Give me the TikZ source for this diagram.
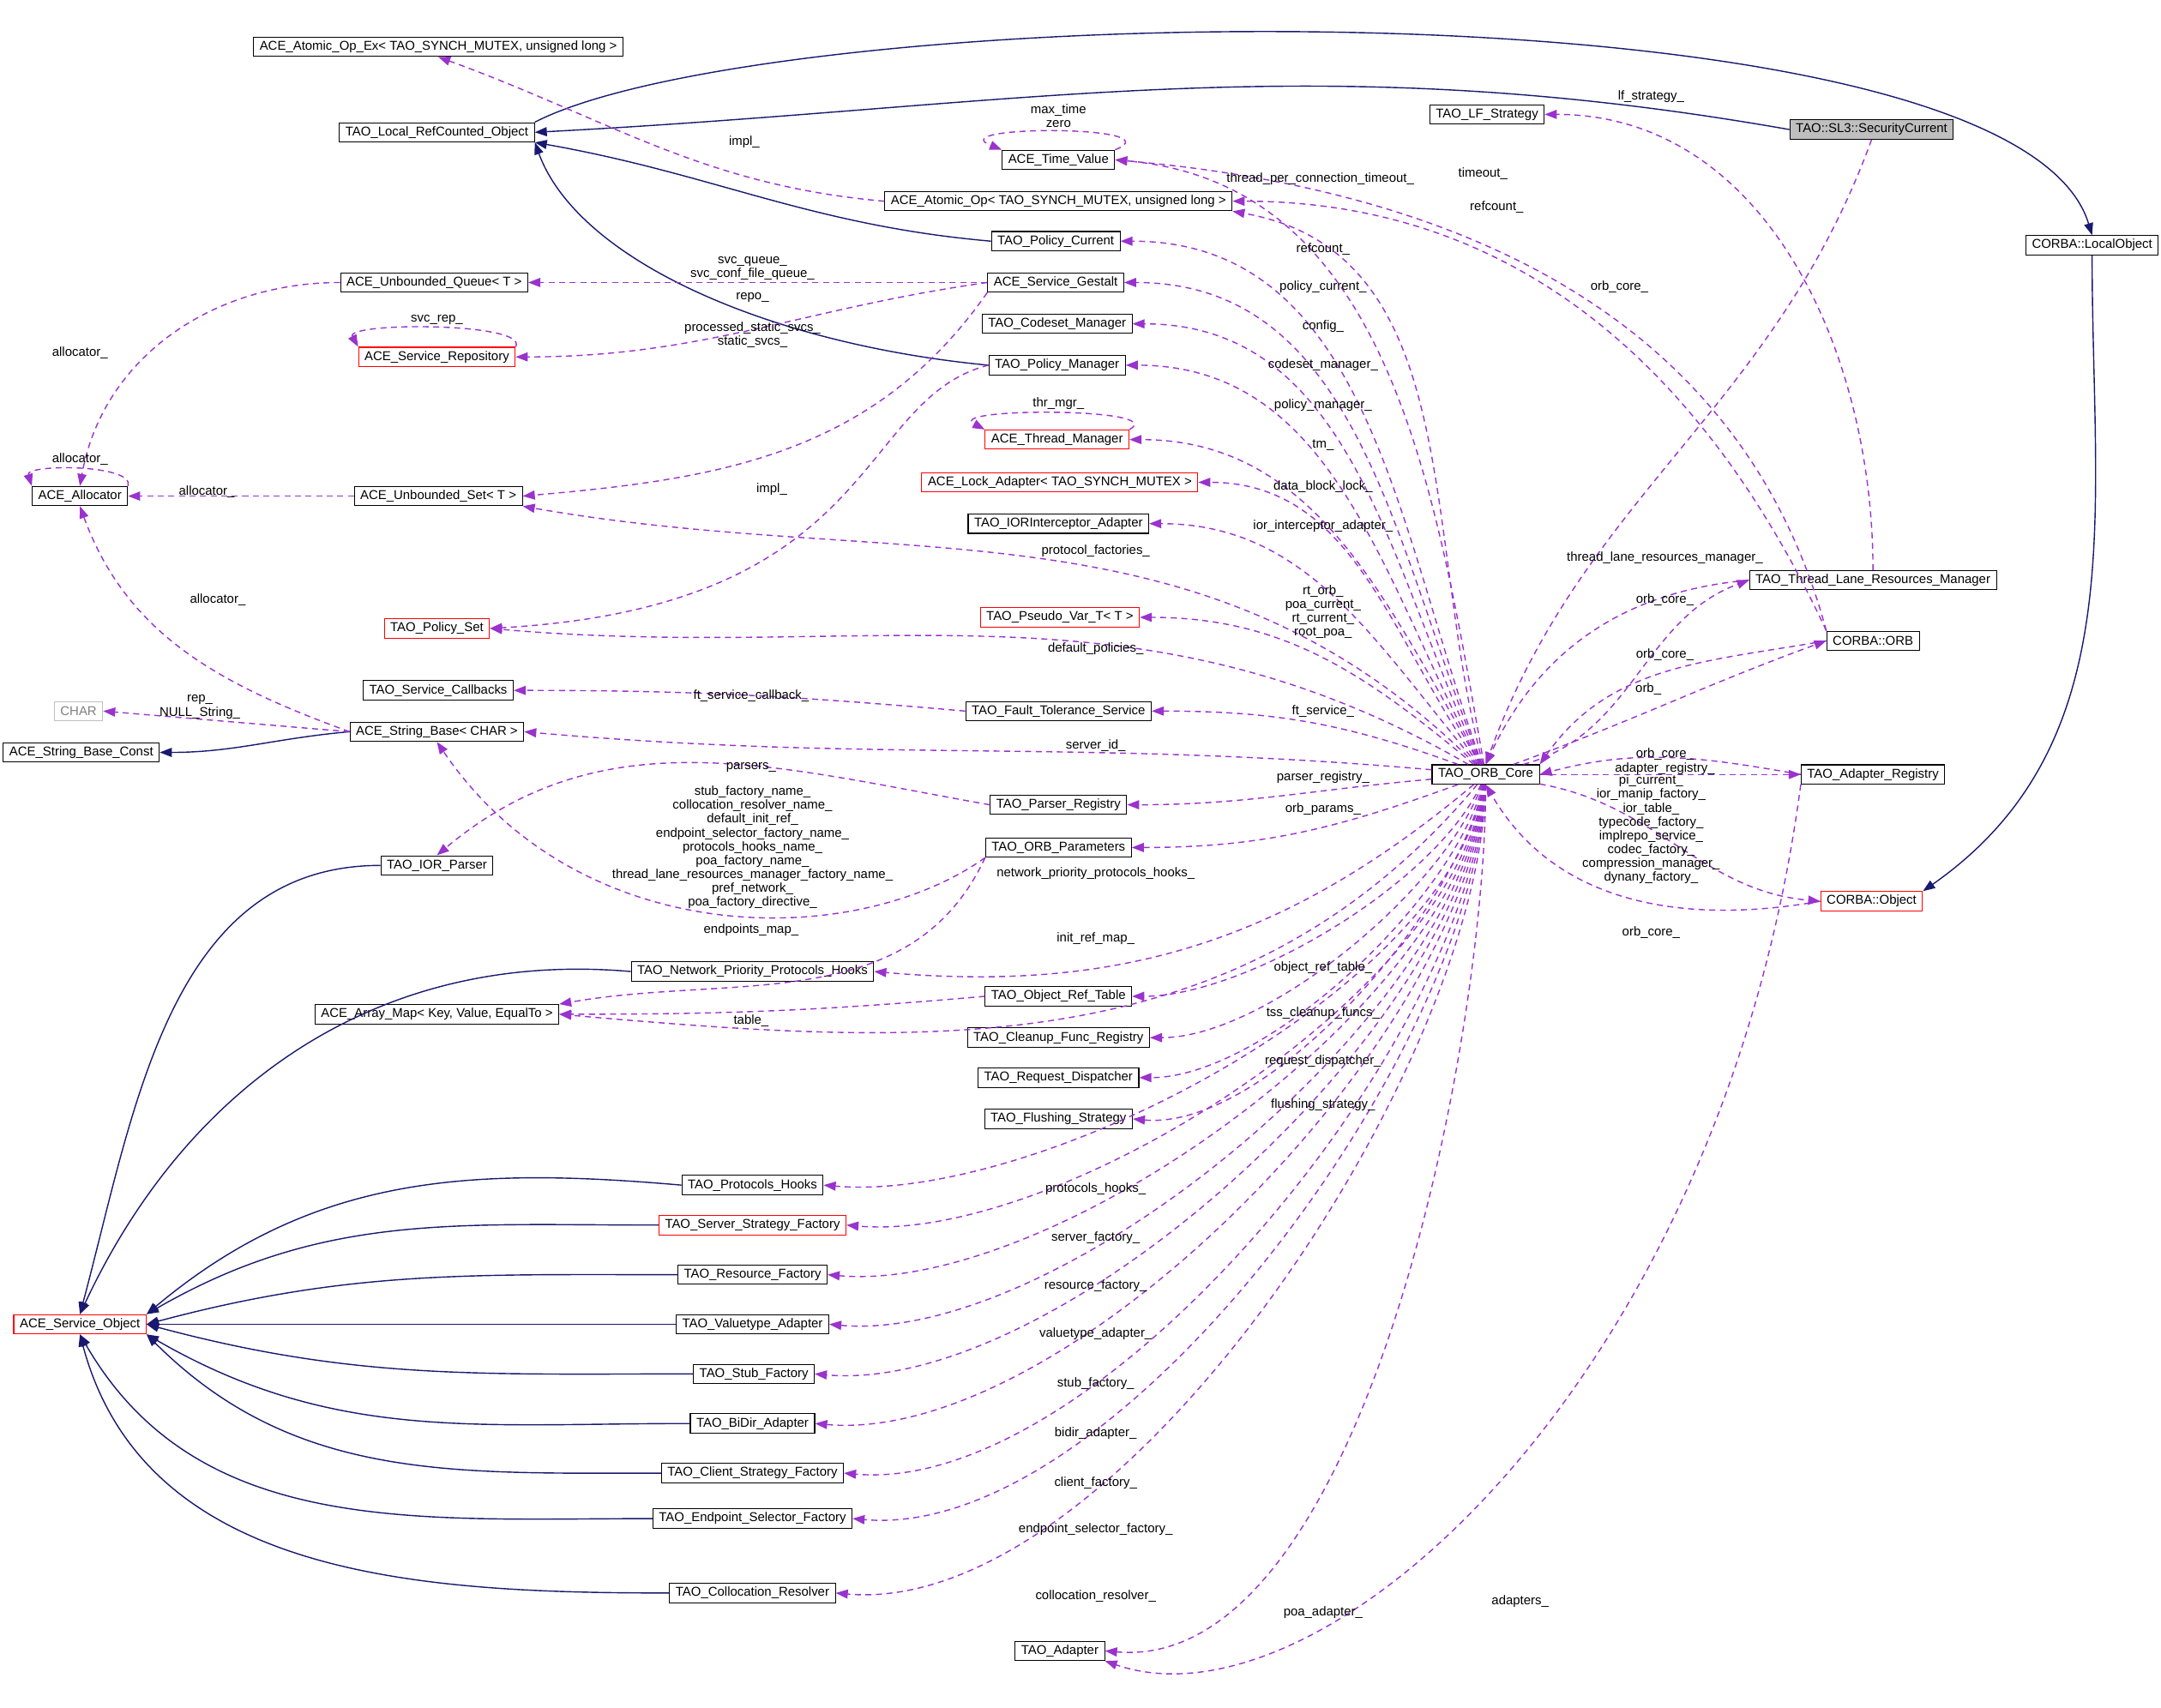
\documentclass[tikz,border=0pt]{standalone}
\usepackage{fontspec}
\setmainfont{Liberation Sans}
\usetikzlibrary{arrows.meta}
\definecolor{inheritblue}{RGB}{25,25,112}
\definecolor{usepurple}{RGB}{154,50,205}
\definecolor{boxgray}{RGB}{191,191,191}

\begin{document}
\begin{tikzpicture}[
    x=0.01607cm, y=-0.01607cm,
    every node/.style={font=\fontsize{4.25}{5}\selectfont},
    box/.style={rectangle, draw=black, line width=0.3pt, minimum height=0.225cm, inner xsep=2pt, inner ysep=0pt, fill=white},
    redbox/.style={box, draw=red},
    graybox/.style={box, draw=boxgray, text=gray},
    thisbox/.style={box, fill=boxgray},
    derive/.style={draw=inheritblue, line width=0.4pt, -{Triangle[length=4pt,width=3pt]}},
    uses/.style={draw=usepurple, line width=0.4pt, dashed, dash pattern=on 2pt off 1.5pt, -{Triangle[length=4pt,width=3pt]}},
    down/.style={looseness=0.7},
    lbl/.style={inner sep=0pt, align=center, font=\fontsize{4.25}{4.6}\selectfont}
]
\useasboundingbox (0,0) rectangle (1568,1239);

% Nodes, left column
\node (aoex) [box] at (318,34) {ACE\_Atomic\_Op\_Ex< TAO\_SYNCH\_MUTEX, unsigned long >};
\node (lrc) [box] at (317,96) {TAO\_Local\_RefCounted\_Object};
\node (uq) [box] at (315,205) {ACE\_Unbounded\_Queue< T >};
\node (sr) [redbox] at (317,259) {ACE\_Service\_Repository};
\node (alloc) [box] at (58,360) {ACE\_Allocator};
\node (us) [box] at (318,360) {ACE\_Unbounded\_Set< T >};
\node (ps) [redbox] at (317,456) {TAO\_Policy\_Set};
\node (char) [graybox] at (57,516) {CHAR};
\node (scb) [box] at (318,501) {TAO\_Service\_Callbacks};
\node (sb) [box] at (317,531) {ACE\_String\_Base< CHAR >};
\node (sbc) [box] at (59,546) {ACE\_String\_Base\_Const};
\node (ior) [box] at (317,628) {TAO\_IOR\_Parser};
\node (am) [box] at (317,736) {ACE\_Array\_Map< Key, Value, EqualTo >};
\node (so) [redbox] at (58,961) {ACE\_Service\_Object};

% Nodes, middle column
\node (tv) [box] at (768,116) {ACE\_Time\_Value};
\node (ao) [box] at (768,146) {ACE\_Atomic\_Op< TAO\_SYNCH\_MUTEX, unsigned long >};
\node (pc) [box] at (766,175) {TAO\_Policy\_Current};
\node (sg) [box] at (766,205) {ACE\_Service\_Gestalt};
\node (cm) [box] at (767,235) {TAO\_Codeset\_Manager};
\node (pm) [box] at (767,265) {TAO\_Policy\_Manager};
\node (thm) [redbox] at (767,319) {ACE\_Thread\_Manager};
\node (la) [redbox] at (769,350) {ACE\_Lock\_Adapter< TAO\_SYNCH\_MUTEX >};
\node (iia) [box] at (768,380) {TAO\_IORInterceptor\_Adapter};
\node (pv) [redbox] at (769,448) {TAO\_Pseudo\_Var\_T< T >};
\node (ft) [box] at (768,516) {TAO\_Fault\_Tolerance\_Service};
\node (preg) [box] at (768,584) {TAO\_Parser\_Registry};
\node (op) [box] at (768,615) {TAO\_ORB\_Parameters};
\node (npph) [box] at (546,705) {TAO\_Network\_Priority\_Protocols\_Hooks};
\node (ort) [box] at (768,723) {TAO\_Object\_Ref\_Table};
\node (cfr) [box] at (768,753) {TAO\_Cleanup\_Func\_Registry};
\node (rd) [box] at (768,782) {TAO\_Request\_Dispatcher};
\node (fs) [box] at (768,812) {TAO\_Flushing\_Strategy};
\node (ph) [box] at (546,860) {TAO\_Protocols\_Hooks};
\node (ssf) [redbox] at (546,889) {TAO\_Server\_Strategy\_Factory};
\node (rf) [box] at (546,925) {TAO\_Resource\_Factory};
\node (va) [box] at (546,961) {TAO\_Valuetype\_Adapter};
\node (stf) [box] at (547,997) {TAO\_Stub\_Factory};
\node (bda) [box] at (546,1033) {TAO\_BiDir\_Adapter};
\node (csf) [box] at (546,1069) {TAO\_Client\_Strategy\_Factory};
\node (esf) [box] at (546,1102) {TAO\_Endpoint\_Selector\_Factory};
\node (cr) [box] at (546,1156) {TAO\_Collocation\_Resolver};
\node (ta) [box] at (769,1198) {TAO\_Adapter};

% Nodes, right columns
\node (lf) [box] at (1079,83) {TAO\_LF\_Strategy};
\node (sec) [thisbox] at (1358,94) {TAO::SL3::SecurityCurrent};
\node (lo) [box] at (1518,178) {CORBA::LocalObject};
\node (tlrm) [box] at (1359,421) {TAO\_Thread\_Lane\_Resources\_Manager};
\node (orb) [box] at (1359,465) {CORBA::ORB};
\node (core) [box] at (1078,562) {TAO\_ORB\_Core};
\node (ar) [box] at (1359,562) {TAO\_Adapter\_Registry};
\node (obj) [redbox] at (1358,654) {CORBA::Object};

% Inheritance
\draw [derive] (sec.west) to[out=170,in=3] (lrc.east);
\draw [derive] (lrc.north east) .. controls (560,0) and (1460,-20) .. (lo.north);
\draw [derive] (lo.south) to[out=-90,in=35] (obj.north east);
\draw [derive] (pc.west) to[out=175,in=-10] (lrc.south east);
\draw [derive] (pm.west) .. controls (560,250) and (420,190) .. (lrc.south east);
\draw [derive] (sb.west) to[out=185,in=0] (sbc.east);
\draw [derive] (ior.west) to[out=180,in=75] (so.north);
\draw [derive] (npph.west) to[out=175,in=65] (so.north);
\draw [derive] (ph.west) to[out=175,in=40] (so.north east);
\draw [derive] (ssf.west) to[out=180,in=30] (so.north east);
\draw [derive] (rf.west) to[out=180,in=15] (so.east);
\draw [derive] (va.west) -- (so.east);
\draw [derive] (stf.west) to[out=180,in=-15] (so.east);
\draw [derive] (bda.west) to[out=180,in=-30] (so.south east);
\draw [derive] (csf.west) to[out=180,in=-45] (so.south east);
\draw [derive] (esf.west) to[out=180,in=-60] (so.south);
\draw [derive] (cr.west) to[out=180,in=-75] (so.south);

% Members, not from the ORB core
\draw [uses] (ao.west) to[out=175,in=-20] (aoex.south);
\draw [uses] (tv.north east) .. controls +(45,-18) and +(-45,-18) .. (tv.north west);
\draw [uses] (tlrm.north) to[out=90,in=0] (lf.east);
\draw [uses] (orb.north west) to[out=105,in=-5] (tv.east);
\draw [uses] (orb.north west) to[out=115,in=0] (ao.east);
\draw [uses] (sec.south) to[out=-110,in=70] (core.north);
\draw [uses] (sg.west) -- (uq.east);
\draw [uses] (sg.west) to[out=188,in=0] (sr.east);
\draw [uses] (sr.north east) .. controls +(10,-18) and +(-10,-18) .. (sr.north west);
\draw [uses] (sg.south west) to[out=-125,in=5] (us.east);
\draw [uses] (pm.west) .. controls (620,290) and (640,440) .. (ps.east);
\draw [uses] (thm.north east) .. controls +(30,-16) and +(-30,-16) .. (thm.north west);
\draw [uses] (us.west) -- (alloc.east);
\draw [uses] (uq.west) to[out=180,in=80] (alloc.north);
\draw [uses] (alloc.north east) .. controls +(5,-16) and +(-5,-16) .. (alloc.north west);
\draw [uses] (sb.west) to[out=160,in=-70] (alloc.south);
\draw [uses] (sb.west) -- (char.east);
\draw [uses] (tlrm.west) to[out=185,in=65] (core.north);
\draw [uses] (orb.west) to[out=190,in=55] (core.north east);
\draw [uses] (ft.west) to[out=175,in=0] (scb.east);
\draw [uses] (ar.west) to[out=170,in=15] (core.east);
\draw [uses] (preg.west) to[out=170,in=40] (ior.north);
\draw [uses] (op.south west) .. controls (620,690) and (420,690) .. (sb.south);
\draw [uses] (op.south west) to[out=-115,in=10] (am.north east);
\draw [uses] (ort.west) to[out=185,in=0] (am.east);
\draw [uses] (obj.west) to[out=190,in=-60] (core.south);
\draw [uses] (ar.south west) .. controls (1250,1000) and (960,1260) .. (ta.south east);

% Members of the ORB core
\draw [uses] (core) to[out=100,in=-5] (tv.east);
\draw [uses] (core) to[out=105,in=-10] (ao.south east);
\draw [uses] (core) to[out=110,in=0] (pc.east);
\draw [uses] (core) to[out=112,in=0] (sg.east);
\draw [uses] (core) to[out=115,in=0] (cm.east);
\draw [uses] (core) to[out=118,in=0] (pm.east);
\draw [uses] (core) to[out=120,in=0] (thm.east);
\draw [uses] (core) to[out=125,in=0] (la.east);
\draw [uses] (core) to[out=130,in=0] (iia.east);
\draw [uses] (core) to[out=135,in=-10] (us.south east);
\draw [uses] (core) to[out=140,in=0] (pv.east);
\draw [uses] (core) to[out=150,in=-5] (ps.east);
\draw [uses] (core) to[out=15,in=200] (tlrm.west);
\draw [uses] (core) to[out=20,in=200] (orb.west);
\draw [uses] (core) to[out=160,in=0] (ft.east);
\draw [uses] (core) to[out=175,in=-5] (sb.east);
\draw [uses] (core) -- (ar.west);
\draw [uses] (core) to[out=185,in=0] (preg.east);
\draw [uses] (core) to[out=-10,in=175] (obj.west);
\draw [uses] (core) to[out=-160,in=0] (op.east);
\draw [uses] (core) to[out=-140,in=-5] (npph.east);
\draw [uses] (core) to[out=-130,in=-5] (am.east);
\draw [uses, down] (core) to[out=-115,in=0] (ort.east);
\draw [uses, down] (core) to[out=-110,in=0] (cfr.east);
\draw [uses, down] (core) to[out=-105,in=0] (rd.east);
\draw [uses, down] (core) to[out=-102,in=-5] (fs.east);
\draw [uses, down] (core) to[out=-100,in=-5] (ph.east);
\draw [uses, down] (core) to[out=-98,in=-5] (ssf.east);
\draw [uses, down] (core) to[out=-97,in=-5] (rf.east);
\draw [uses, down] (core) to[out=-96,in=-5] (va.east);
\draw [uses, down] (core) to[out=-95,in=-5] (stf.east);
\draw [uses, down] (core) to[out=-94,in=-5] (bda.east);
\draw [uses, down] (core) to[out=-93,in=-5] (csf.east);
\draw [uses, down] (core) to[out=-92,in=-5] (esf.east);
\draw [uses, down] (core) to[out=-91,in=-5] (cr.east);
\draw [uses, down] (core) to[out=-90,in=-5] (ta.east);

% Labels
\node (l_impl1) [lbl] at (540,103) {impl\_};
\node (l_tv) [lbl] at (768,84) {max\_time\\zero};
\node (l_tpct) [lbl] at (958,130) {thread\_per\_connection\_timeout\_};
\node (l_lf) [lbl] at (1198,70) {lf\_strategy\_};
\node (l_timeout) [lbl] at (1076,126) {timeout\_};
\node (l_ref1) [lbl] at (1086,150) {refcount\_};
\node (l_ref2) [lbl] at (960,181) {refcount\_};
\node (l_oc1) [lbl] at (1175,208) {orb\_core\_};
\node (l_pc) [lbl] at (960,208) {policy\_current\_};
\node (l_svcq) [lbl] at (546,195) {svc\_queue\_\\svc\_conf\_file\_queue\_};
\node (l_repo) [lbl] at (546,216) {repo\_};
\node (l_svcrep) [lbl] at (317,232) {svc\_rep\_};
\node (l_config) [lbl] at (960,237) {config\_};
\node (l_pss) [lbl] at (546,243) {processed\_static\_svcs\_\\static\_svcs\_};
\node (l_cm) [lbl] at (960,265) {codeset\_manager\_};
\node (l_al1) [lbl] at (58,256) {allocator\_};
\node (l_al2) [lbl] at (58,333) {allocator\_};
\node (l_al3) [lbl] at (150,357) {allocator\_};
\node (l_al4) [lbl] at (158,435) {allocator\_};
\node (l_thr) [lbl] at (768,293) {thr\_mgr\_};
\node (l_pm) [lbl] at (960,294) {policy\_manager\_};
\node (l_tm) [lbl] at (960,323) {tm\_};
\node (l_impl2) [lbl] at (560,355) {impl\_};
\node (l_dbl) [lbl] at (960,353) {data\_block\_lock\_};
\node (l_iia) [lbl] at (960,382) {ior\_interceptor\_adapter\_};
\node (l_pf) [lbl] at (795,400) {protocol\_factories\_};
\node (l_tlrm) [lbl] at (1208,405) {thread\_lane\_resources\_manager\_};
\node (l_pv) [lbl] at (960,444) {rt\_orb\_\\poa\_current\_\\rt\_current\_\\root\_poa\_};
\node (l_oc2) [lbl] at (1208,435) {orb\_core\_};
\node (l_dp) [lbl] at (795,471) {default\_policies\_};
\node (l_oc3) [lbl] at (1208,475) {orb\_core\_};
\node (l_orb) [lbl] at (1196,500) {orb\_};
\node (l_ftcb) [lbl] at (545,505) {ft\_service\_callback\_};
\node (l_rep) [lbl] at (145,513) {rep\_\\NULL\_String\_};
\node (l_ft) [lbl] at (960,516) {ft\_service\_};
\node (l_sid) [lbl] at (795,541) {server\_id\_};
\node (l_oc4) [lbl] at (1208,547) {orb\_core\_};
\node (l_parsers) [lbl] at (545,557) {parsers\_};
\node (l_areg) [lbl] at (1208,558) {adapter\_registry\_};
\node (l_preg) [lbl] at (960,564) {parser\_registry\_};
\node (l_names) [lbl] at (546,615) {stub\_factory\_name\_\\collocation\_resolver\_name\_\\default\_init\_ref\_\\endpoint\_selector\_factory\_name\_\\protocols\_hooks\_name\_\\poa\_factory\_name\_\\thread\_lane\_resources\_manager\_factory\_name\_\\pref\_network\_\\poa\_factory\_directive\_};
\node (l_pi) [lbl] at (1198,602) {pi\_current\_\\ior\_manip\_factory\_\\ior\_table\_\\typecode\_factory\_\\implrepo\_service\_\\codec\_factory\_\\compression\_manager\_\\dynany\_factory\_};
\node (l_op) [lbl] at (960,587) {orb\_params\_};
\node (l_npph) [lbl] at (795,634) {network\_priority\_protocols\_hooks\_};
\node (l_em) [lbl] at (545,675) {endpoints\_map\_};
\node (l_oc5) [lbl] at (1198,677) {orb\_core\_};
\node (l_irm) [lbl] at (795,681) {init\_ref\_map\_};
\node (l_ort) [lbl] at (960,702) {object\_ref\_table\_};
\node (l_table) [lbl] at (545,741) {table\_};
\node (l_tss) [lbl] at (960,735) {tss\_cleanup\_funcs\_};
\node (l_rd) [lbl] at (960,770) {request\_dispatcher\_};
\node (l_fs) [lbl] at (960,802) {flushing\_strategy\_};
\node (l_ph) [lbl] at (795,863) {protocols\_hooks\_};
\node (l_sf) [lbl] at (795,898) {server\_factory\_};
\node (l_rf) [lbl] at (795,933) {resource\_factory\_};
\node (l_va) [lbl] at (795,968) {valuetype\_adapter\_};
\node (l_stf) [lbl] at (795,1004) {stub\_factory\_};
\node (l_bda) [lbl] at (795,1040) {bidir\_adapter\_};
\node (l_cf) [lbl] at (795,1076) {client\_factory\_};
\node (l_esf) [lbl] at (795,1110) {endpoint\_selector\_factory\_};
\node (l_cr) [lbl] at (795,1158) {collocation\_resolver\_};
\node (l_ad) [lbl] at (1103,1162) {adapters\_};
\node (l_poa) [lbl] at (960,1170) {poa\_adapter\_};

\end{tikzpicture}
\end{document}
